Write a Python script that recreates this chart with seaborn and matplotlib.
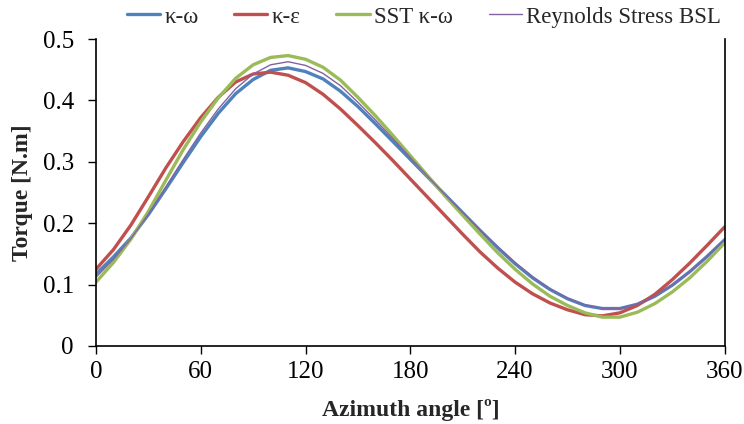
import numpy as np
import pandas as pd
import matplotlib
matplotlib.use("Agg")
import matplotlib.pyplot as plt
import seaborn as sns

# azimuth samples every 10 degrees, torque [N.m]
azimuth = list(range(0, 361, 10))

k_omega = [0.117, 0.145, 0.176, 0.214, 0.256, 0.299, 0.341, 0.379, 0.411, 0.434,
           0.449, 0.453, 0.447, 0.435, 0.415, 0.390, 0.362, 0.333, 0.304, 0.275,
           0.246, 0.217, 0.188, 0.160, 0.134, 0.111, 0.092, 0.077, 0.066, 0.061,
           0.061, 0.068, 0.081, 0.099, 0.121, 0.146, 0.173]

k_eps = [0.125, 0.157, 0.197, 0.243, 0.290, 0.333, 0.372, 0.405, 0.430, 0.443,
         0.446, 0.441, 0.429, 0.410, 0.386, 0.359, 0.331, 0.302, 0.272, 0.242,
         0.212, 0.182, 0.153, 0.127, 0.104, 0.085, 0.070, 0.059, 0.051, 0.049,
         0.054, 0.066, 0.084, 0.108, 0.135, 0.164, 0.194]

sst_k_omega = [0.104, 0.136, 0.174, 0.219, 0.270, 0.320, 0.365, 0.404, 0.436, 0.458,
               0.470, 0.473, 0.467, 0.454, 0.433, 0.405, 0.375, 0.343, 0.310, 0.277,
               0.244, 0.213, 0.182, 0.152, 0.125, 0.101, 0.081, 0.066, 0.054, 0.047,
               0.047, 0.055, 0.069, 0.088, 0.111, 0.138, 0.168]

rs_bsl = [0.112, 0.141, 0.175, 0.215, 0.259, 0.304, 0.347, 0.386, 0.419, 0.443,
          0.458, 0.463, 0.457, 0.444, 0.424, 0.397, 0.368, 0.338, 0.307, 0.276,
          0.246, 0.217, 0.189, 0.162, 0.136, 0.113, 0.093, 0.078, 0.067, 0.061,
          0.061, 0.068, 0.081, 0.099, 0.121, 0.146, 0.173]

names = ["\u03ba-\u03c9", "\u03ba-\u03b5", "SST \u03ba-\u03c9", "Reynolds Stress BSL"]
colors = ["#4F81BD", "#C0504D", "#9BBB59", "#8064A2"]
widths = [2.4, 2.4, 2.4, 1.0]

sns.set_style("white")
plt.rcParams["font.family"] = ["Liberation Serif", "DejaVu Serif"]

fig = plt.figure(figsize=(7.44, 4.24), dpi=100)
ax = fig.add_axes([0.129, 0.184, 0.845, 0.724])

for name, vals, color, lw in zip(names, [k_omega, k_eps, sst_k_omega, rs_bsl], colors, widths):
    df = pd.DataFrame({"azimuth": azimuth, "torque": vals})
    sns.lineplot(data=df, x="azimuth", y="torque", color=color, linewidth=lw,
                 label=name, ax=ax, legend=False)

ax.set_xlim(0, 360)
ax.set_ylim(0, 0.5)
ax.set_xticks(range(0, 361, 60))
ax.set_yticks([0, 0.1, 0.2, 0.3, 0.4, 0.5])
ax.set_yticklabels(["0", "0.1", "0.2", "0.3", "0.4", "0.5"])
ax.tick_params(axis="both", direction="out", length=6, width=1, labelsize=18,
               colors="black", left=True, bottom=True)
ax.tick_params(axis="x", pad=5)
ax.tick_params(axis="y", pad=10)
ax.set_xlabel("Azimuth angle [\u00ba]", fontsize=17, fontweight="bold")
ax.set_ylabel("Torque [N.m]", fontsize=17, fontweight="bold")
ax.xaxis.set_label_coords(0.5, -0.172)
ax.yaxis.set_label_coords(-0.100, 0.5)

for side in ["left", "bottom", "right"]:
    ax.spines[side].set_visible(True)
    ax.spines[side].set_color("black")
    ax.spines[side].set_linewidth(1.2)
ax.spines["top"].set_visible(False)

handles, labels = ax.get_legend_handles_labels()
fig.legend(handles, labels, loc="center", bbox_to_anchor=(424 / 744, 1 - 17 / 424),
           ncol=4, frameon=False, fontsize=16.5, handlelength=1.45,
           handletextpad=0.2, columnspacing=1.55, borderaxespad=0, borderpad=0)

fig.savefig("out.png", dpi=100)
